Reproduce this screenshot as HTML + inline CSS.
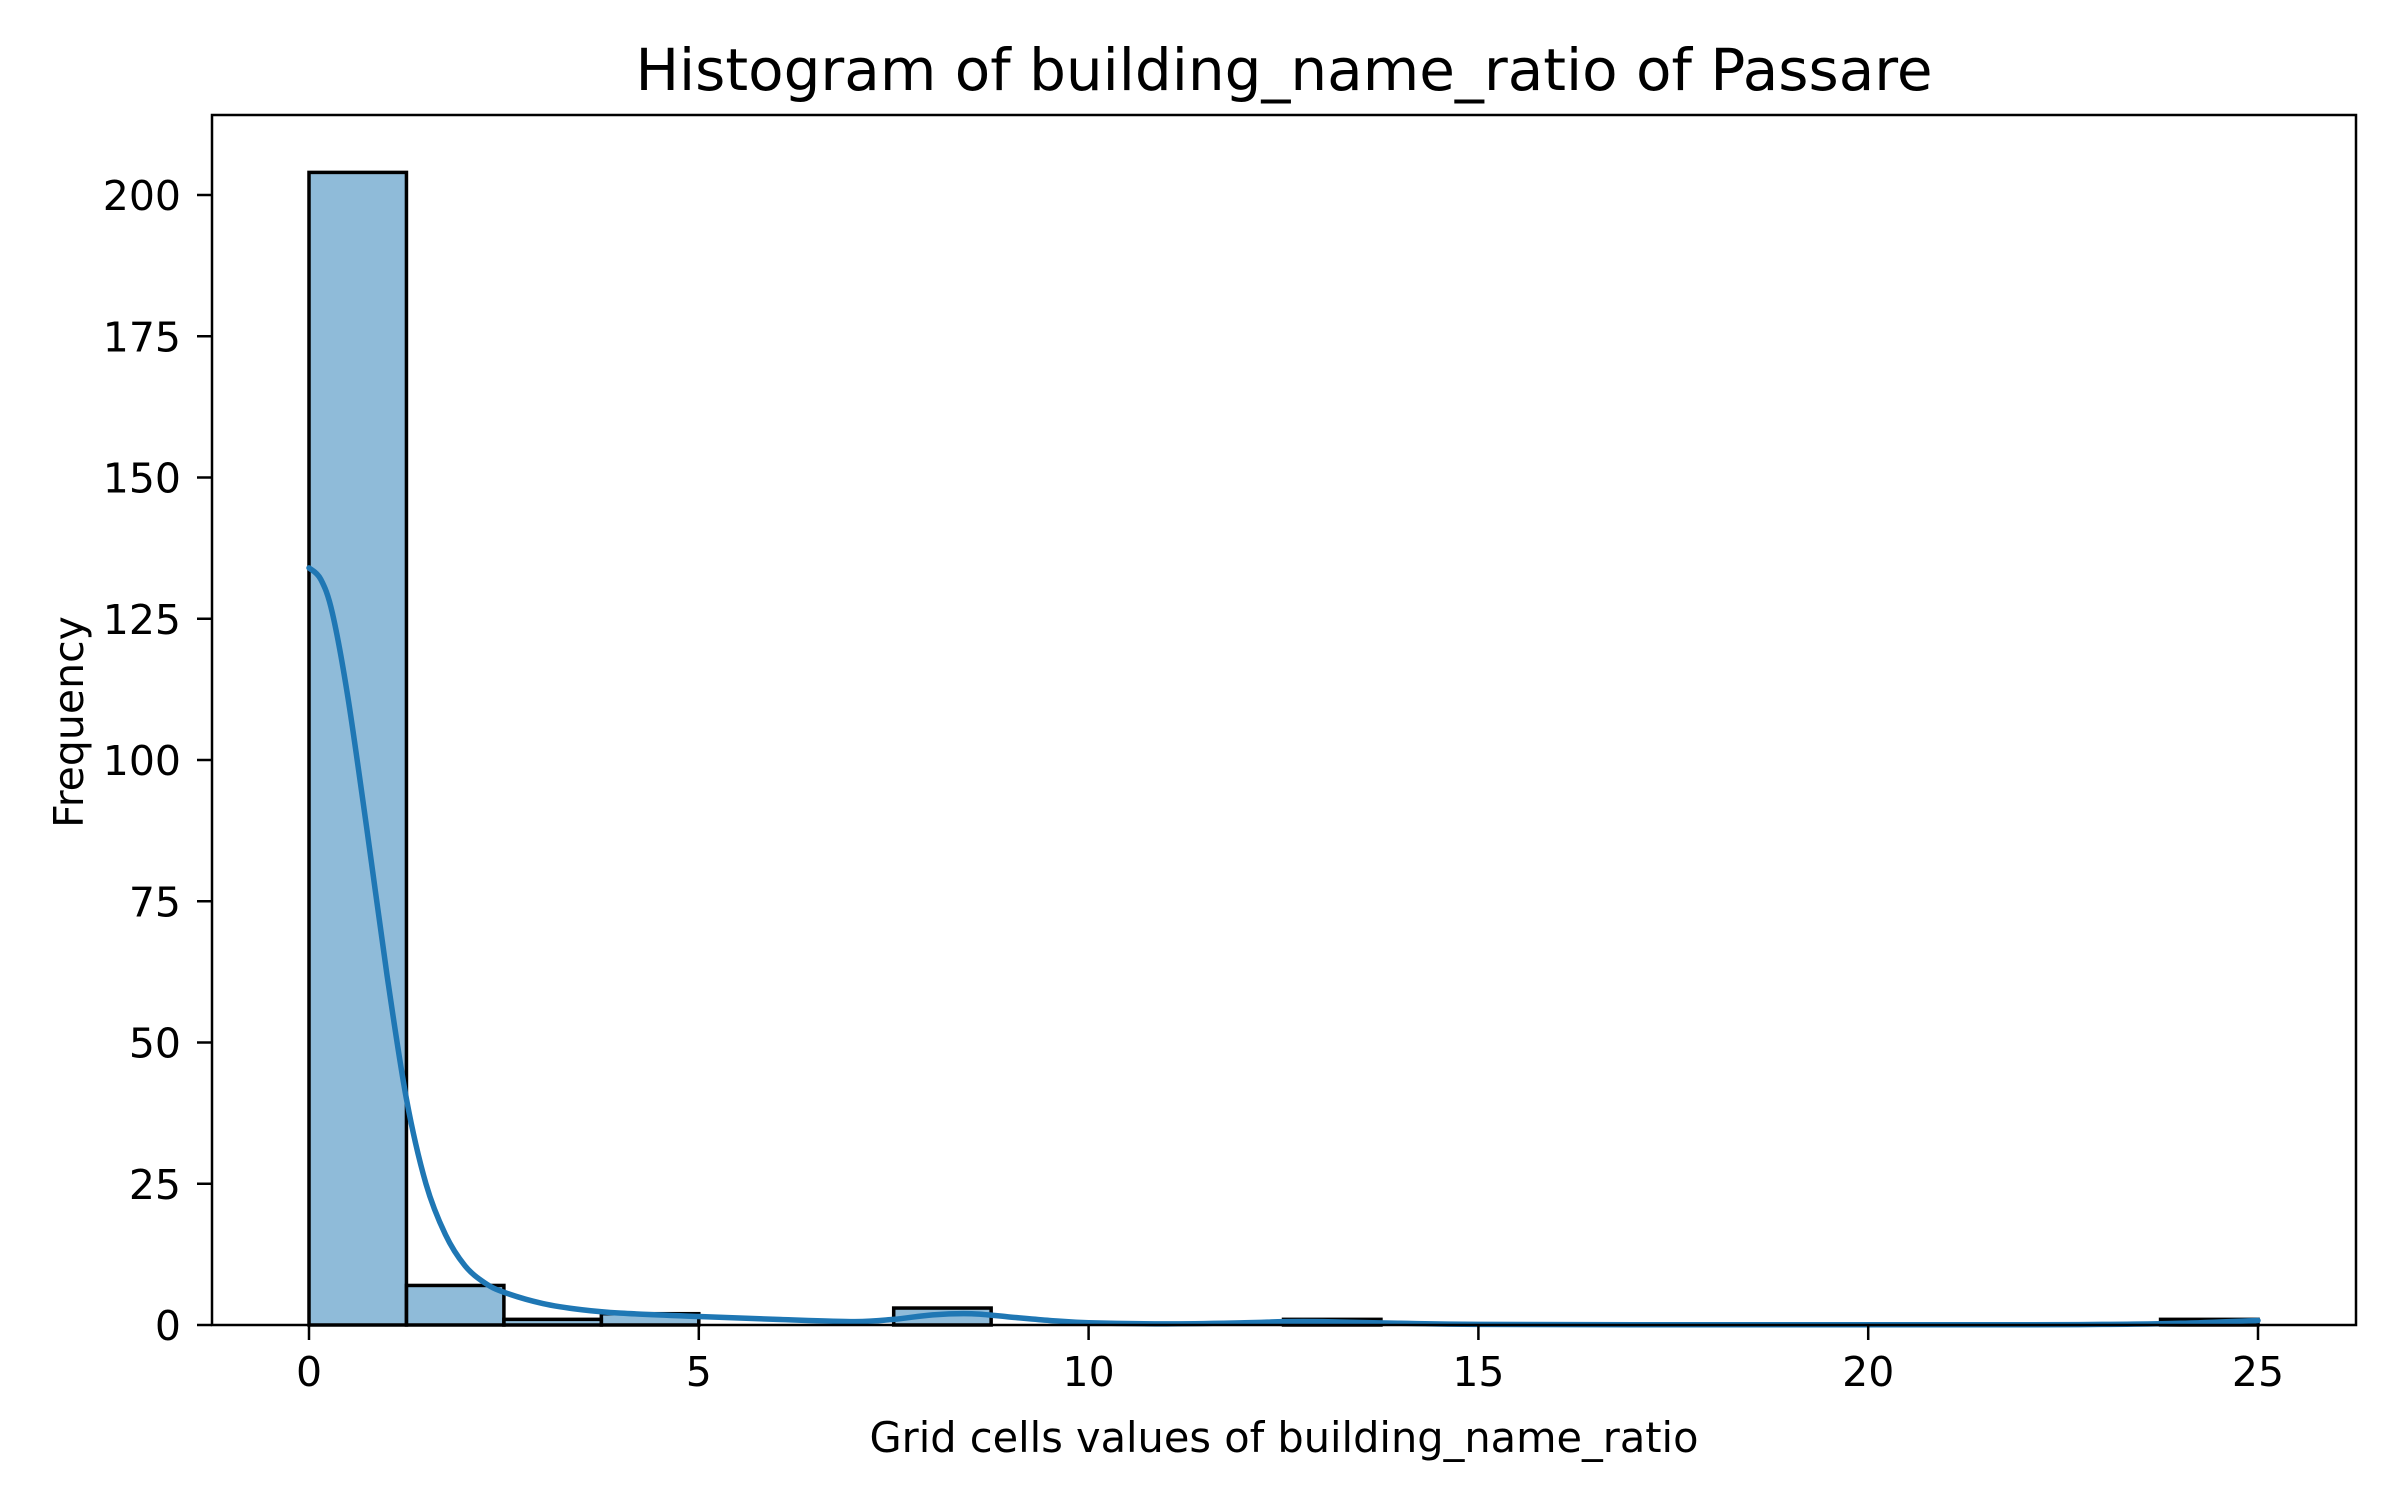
<!DOCTYPE html>
<html><head><meta charset="utf-8"><style>
html,body{margin:0;padding:0;background:#fff;}
svg{display:block;font-family:"DejaVu Sans","Liberation Sans",sans-serif;}
</style></head><body>
<svg id="chart" width="2400" height="1500" viewBox="0 0 2400 1500" xmlns="http://www.w3.org/2000/svg">
<rect x="0" y="0" width="2400" height="1500" fill="#fff"/>
<text x="1284" y="90" font-size="58" text-anchor="middle" fill="#000">Histogram of building_name_ratio of Passare</text>
<g id="bars"></g>
<path id="kde" fill="none" stroke="#1f77b4" stroke-width="5.5" stroke-linecap="round"/>
<g id="axes"></g>
<rect x="212" y="115" width="2144" height="1210" fill="none" stroke="#000" stroke-width="2.5"/>
<text x="1284" y="1452" font-size="41.5" text-anchor="middle">Grid cells values of building_name_ratio</text>
<text x="0" y="0" font-size="41" text-anchor="middle" transform="translate(83,722) rotate(-90)">Frequency</text>
</svg>
<script>
const binStart = 0;
const binWidth = 1.25;
const counts = [204, 7, 1, 2, 0, 0, 3, 0, 0, 0, 1, 0, 0, 0, 0, 0, 0, 0, 0, 1];
const xTicks = [0, 5, 10, 15, 20, 25];
const yTicks = [0, 25, 50, 75, 100, 125, 150, 175, 200];
const kdeX = [0, 0.15, 0.3, 0.5, 0.75, 1, 1.25, 1.5, 1.75, 2, 2.25, 2.5, 3, 3.5, 4, 5, 6, 7, 7.5, 8, 8.5, 9, 9.5, 10, 11, 12, 12.5, 13, 14, 15, 17, 20, 22, 23, 24, 25];
const kdeY = [134, 132, 126, 111, 87, 62, 40, 25, 16, 10.5, 7.5, 5.8, 3.8, 2.7, 2.1, 1.5, 1, 0.6, 1, 1.8, 2, 1.4, 0.8, 0.4, 0.2, 0.4, 0.6, 0.6, 0.3, 0.1, 0.05, 0.05, 0.05, 0.1, 0.3, 0.8];

const NS = "http://www.w3.org/2000/svg";
const X0 = 309, XU = 77.96, Y0 = 1325, YU = 5.65;
function sx(v){ return X0 + v * XU; }
function sy(v){ return Y0 - v * YU; }

const bars = document.getElementById('bars');
counts.forEach((c, i) => {
  if (c <= 0) return;
  const r = document.createElementNS(NS, 'rect');
  const x1 = sx(binStart + i * binWidth), x2 = sx(binStart + (i + 1) * binWidth);
  r.setAttribute('x', x1); r.setAttribute('y', sy(c));
  r.setAttribute('width', x2 - x1); r.setAttribute('height', sy(0) - sy(c));
  r.setAttribute('fill', 'rgba(31,119,180,0.5)');
  r.setAttribute('stroke', '#000'); r.setAttribute('stroke-width', '3.5');
  
  
  bars.appendChild(r);
});

const pts = kdeX.map((x, i) => [sx(x), sy(kdeY[i])]);
let d = 'M' + pts[0][0] + ',' + pts[0][1];
for (let i = 0; i < pts.length - 1; i++) {
  const p0 = pts[i - 1] || pts[i], p1 = pts[i], p2 = pts[i + 1], p3 = pts[i + 2] || p2;
  const c1 = [p1[0] + (p2[0] - p0[0]) / 6, p1[1] + (p2[1] - p0[1]) / 6];
  const c2 = [p2[0] - (p3[0] - p1[0]) / 6, p2[1] - (p3[1] - p1[1]) / 6];
  d += ' C' + c1[0] + ',' + c1[1] + ' ' + c2[0] + ',' + c2[1] + ' ' + p2[0] + ',' + p2[1];
}
document.getElementById('kde').setAttribute('d', d);

const axes = document.getElementById('axes');
xTicks.forEach(t => {
  const l = document.createElementNS(NS, 'line');
  l.setAttribute('x1', sx(t)); l.setAttribute('x2', sx(t));
  l.setAttribute('y1', 1325); l.setAttribute('y2', 1340);
  l.setAttribute('stroke', '#000'); l.setAttribute('stroke-width', '2.5');
  
  
  axes.appendChild(l);
  const tx = document.createElementNS(NS, 'text');
  tx.setAttribute('x', sx(t)); tx.setAttribute('y', 1386);
  tx.setAttribute('font-size', '41'); tx.setAttribute('text-anchor', 'middle');
  tx.textContent = t;
  
  
  axes.appendChild(tx);
});
yTicks.forEach(t => {
  const l = document.createElementNS(NS, 'line');
  l.setAttribute('x1', 197); l.setAttribute('x2', 212);
  l.setAttribute('y1', sy(t)); l.setAttribute('y2', sy(t));
  l.setAttribute('stroke', '#000'); l.setAttribute('stroke-width', '2.5');
  
  
  axes.appendChild(l);
  const tx = document.createElementNS(NS, 'text');
  tx.setAttribute('x', 181); tx.setAttribute('y', sy(t) + 15);
  tx.setAttribute('font-size', '41'); tx.setAttribute('text-anchor', 'end');
  tx.textContent = t;
  
  
  axes.appendChild(tx);
});
</script>
</body></html>
